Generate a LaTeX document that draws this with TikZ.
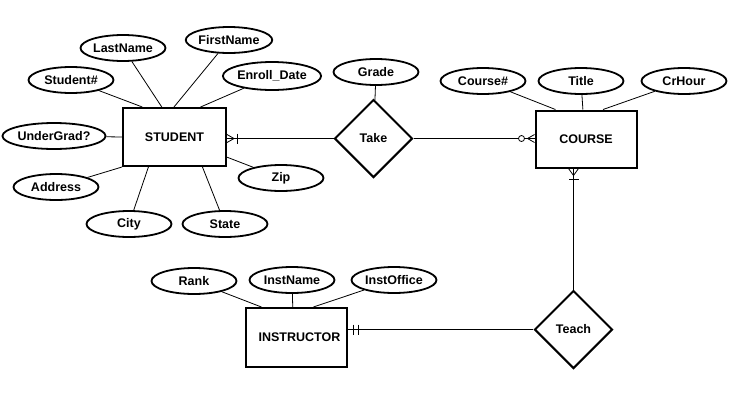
\documentclass[tikz,border=0pt]{standalone}
\usepackage{fontspec}
\setmainfont{Liberation Sans}
\usetikzlibrary{shapes.geometric}
\tikzstyle{entity} = [rectangle, draw=black, line width=2pt, minimum width=101pt, minimum height=57pt, inner sep=0pt, font=\bfseries\fontsize{12.5}{14}\selectfont]
\tikzstyle{attribute} = [ellipse, draw=black, line width=1.8pt, minimum width=85pt, minimum height=26pt, inner sep=0pt, font=\bfseries\fontsize{12.5}{14}\selectfont]
\tikzstyle{relation} = [diamond, aspect=1, draw=black, line width=2pt, minimum width=78pt, minimum height=78pt, inner sep=0pt, font=\bfseries\fontsize{12.5}{14}\selectfont]
\tikzstyle{link} = [line width=0.8pt]
\tikzset{
  crowfoot/.pic={\draw[link] (0,-#1) -- (7,0) -- (0,#1);},
  onebar/.pic={\draw[link] (#1,-5) -- (#1,5);},
  zeroring/.pic={\draw[link, fill=white] (#1,0) circle (3pt);}
}

\begin{document}
\begin{tikzpicture}[x=1pt, y=-1pt]
        \useasboundingbox (0,0) rectangle (753,416);
        % entities and relationships
        \node (student) [entity, minimum width=103pt, minimum height=58pt] at (174.5,137) {STUDENT\hspace{14pt}};
        \node (course) [entity] at (586,139) {COURSE\hspace{20pt}};
        \node (instructor) [entity, minimum height=59pt] at (296.5,337.5) {\hspace{6pt}INSTRUCTOR};
        \node (take) [relation] at (373.5,138.5) {Take};
        \node (teach) [relation] at (573.5,329.5) {Teach};

        % attributes
        \node (stuNo) [attribute] at (71,80) {Student\#};
        \node (lastName) [attribute] at (123,48) {LastName};
        \node (firstName) [attribute] at (229,40) {FirstName};
        \node (enrollDate) [attribute, minimum height=28pt] at (272,76) {Enroll\_Date};
        \node (underGrad) [attribute, minimum width=91pt] at (54,136) {UnderGrad?};
        \node (address) [attribute] at (56,187) {Address};
        \node (city) [attribute] at (129,224) {City};
        \node (state) [attribute] at (225,224) {State};
        \node (zip) [attribute] at (281,178) {Zip};
        \node (grade) [attribute] at (376,72) {Grade};
        \node (courseNo) [attribute] at (483,81) {Course\#};
        \node (title) [attribute] at (581,81) {Title};
        \node (crHour) [attribute] at (684,81) {CrHour};
        \node (rank) [attribute] at (194,281) {Rank};
        \node (instName) [attribute] at (292,280) {InstName};
        \node (instOffice) [attribute] at (394,280) {InstOffice};

        \draw [link] (stuNo) -- (student.137);
        \draw [link] (lastName) -- (student.113);
        \draw [link] (firstName) -- (student.91);
        \draw [link] (enrollDate) -- (student.49);
        \draw [link] (underGrad) -- (student.west);
        \draw [link] (address) -- (student.south west);
        \draw [link] (city) -- (student.229);
        \draw [link] (state) -- (student.313);
        \draw [link] (zip) -- (student.339);
        \draw [link] (grade) -- (take);
        \draw [link] (courseNo) -- (course.136);
        \draw [link] (title) -- (course.96);
        \draw [link] (crHour) -- (course.60);
        \draw [link] (rank) -- (instructor.139);
        \draw [link] (instName) -- (instructor.97);
        \draw [link] (instOffice) -- (instructor.61);

        % relationship lines
        \draw [link] (take) -- (student.east |- take);
        \draw [link] (take) -- (course.west |- take);
        \draw [link] (teach) -- (teach |- course.south);
        \draw [link] (teach) -- (instructor.east |- teach);

        % cardinality marks
        \pic at (student.east |- take) {crowfoot=4};
        \pic at (student.east |- take) {onebar=10};
        \pic[rotate=180] at (course.west |- take) {crowfoot=4};
        \pic[rotate=180] at (course.west |- take) {zeroring=13};
        \pic[rotate=-90] at (teach |- course.south) {crowfoot=5};
        \pic[rotate=-90] at (teach |- course.south) {onebar=11};
        \pic at (instructor.east |- teach) {onebar=5};
        \pic at (instructor.east |- teach) {onebar=10};
    \end{tikzpicture}
\end{document}
